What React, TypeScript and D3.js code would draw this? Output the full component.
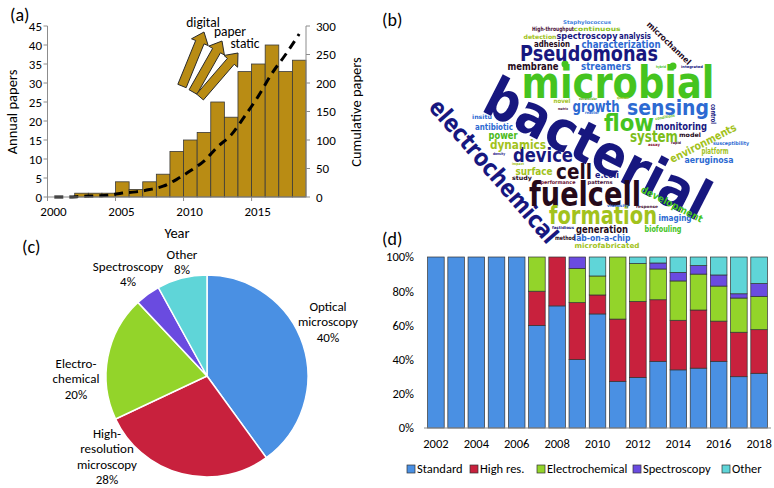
import React from 'react';
import * as d3 from 'd3';

// ---------- (a) annual / cumulative papers ----------
const years = [2000, 2001, 2002, 2003, 2004, 2005, 2006, 2007, 2008, 2009, 2010, 2011, 2012, 2013, 2014, 2015, 2016, 2017, 2018];
const annualPapers = [0, 0, 1, 1, 1, 4, 2, 4, 6, 12, 15, 17, 25, 21, 33, 35, 40, 33, 36];
const cumulativePapers = [0, 0, 1, 2, 3, 7, 9, 13, 19, 31, 46, 63, 88, 109, 142, 177, 217, 250, 286];
const arrowLabels = ['digital', 'paper', 'static'];

// ---------- (c) pie ----------
const pieLabels = ['Optical microscopy', 'High-resolution microscopy', 'Electrochemical', 'Spectroscopy', 'Other'];
const pieValues = [40, 28, 20, 4, 8];

// ---------- (d) stacked 100% ----------
const dYears = [2002, 2003, 2004, 2005, 2006, 2007, 2008, 2009, 2010, 2011, 2012, 2013, 2014, 2015, 2016, 2017, 2018];
const dSeries = ['Standard', 'High res.', 'Electrochemical', 'Spectroscopy', 'Other'];
const standard = [100, 100, 100, 100, 100, 60, 71.4, 40, 66.7, 27.3, 29.6, 39, 34, 35, 39, 30, 32];
const highRes = [0, 0, 0, 0, 0, 20, 28.6, 33.3, 11.1, 36.4, 44.4, 36, 29, 34, 23.5, 26, 25.5];
const electrochemical = [0, 0, 0, 0, 0, 20, 0, 20, 11.1, 36.3, 22.2, 18, 23, 21, 20.5, 20, 19.5];
const spectroscopy = [0, 0, 0, 0, 0, 0, 0, 6.7, 0, 0, 0, 3.5, 5, 5, 6.5, 2.5, 7.5];
const other = [0, 0, 0, 0, 0, 0, 0, 0, 11.1, 0, 3.8, 3.5, 9, 5, 10.5, 21.5, 15.5];

// ---------- (b) word cloud ----------
const cloudWords = [
  'bacterial', 'microbial', 'electrochemical', 'Pseudomonas', 'fuelcell', 'cell', 'formation', 'sensing',
  'flow', 'device', 'growth', 'system', 'dynamics', 'characterization', 'streamers', 'membrane',
  'spectroscopy', 'analysis', 'adhesion', 'monitoring', 'antibiotic', 'power', 'surface', 'aeruginosa',
  'platform', 'imaging', 'generation', 'lab-on-a-chip', 'biofouling', 'e.coli', 'environments', 'development',
  'microchannel', 'control', 'High-throughput', 'continuous', 'Staphylococcus', 'detection', 'insitu', 'model',
  'susceptibility', 'study', 'performance', 'patterns', 'method', 'microfabricated', 'viscosity', 'response',
  'fastidious', 'novel', 'extracellular', 'quorum', 'matrix', 'reactor', 'conditions', 'rapid',
  'assay', 'density', 'impact', 'hybrid', 'integrated',
];

const NAVY = '#17177f';
const BLUE = '#2d6ad2';
const GREEN = '#45c41f';
const YGREEN = '#a2c21c';
const MAROON = '#260a1a';
const PLUM = '#4a1238';

// layout of the cloud: [x, y, width, fontSize, rotate, colour] per word, same order as cloudWords
const cloudLayout: [number, number, number, number, number, string][] = [
  [598, 148, 245, 56, 27, NAVY],
  [618, 82, 193, 44, 0, GREEN],
  [494, 171, 182, 24, 49, NAVY],
  [589, 53, 138, 21, 0, NAVY],
  [585, 194, 112, 34, 0, MAROON],
  [574, 171, 36, 21, 0, MAROON],
  [603, 215, 108, 24, 0, YGREEN],
  [668, 107, 82, 22, 0, BLUE],
  [629, 123, 50, 23, 0, GREEN],
  [543, 155, 60, 20, 0, NAVY],
  [596, 107, 47, 15, 0, BLUE],
  [654, 136, 48, 16, 0, '#7cbd1a'],
  [518, 144, 56, 13, 0, YGREEN],
  [621, 44, 79, 10, 0, BLUE],
  [606, 66, 50, 11, 0, BLUE],
  [533, 66, 51, 10, 0, MAROON],
  [587, 36, 61, 9, 0, NAVY],
  [635, 36, 32, 9, 0, NAVY],
  [552, 44, 36, 9, 0, MAROON],
  [681, 126, 52, 10, 0, NAVY],
  [494, 127, 38, 9, 0, BLUE],
  [503, 135, 29, 10, 0, '#4cbb1a'],
  [534, 171, 37, 10, 0, YGREEN],
  [709, 160, 49, 9, 0, BLUE],
  [715, 151, 27, 8, 0, YGREEN],
  [675, 218, 33, 9, 0, BLUE],
  [602, 229, 52, 10, 0, MAROON],
  [602, 238, 57, 9, 0, BLUE],
  [663, 229, 37, 8, 0, GREEN],
  [607, 175, 24, 9, 0, NAVY],
  [703, 143, 73, 11, -27, YGREEN],
  [672, 204, 68, 10, 27, GREEN],
  [669, 43, 58, 8, 44, MAROON],
  [714, 114, 20, 7, 90, NAVY],
  [553, 29, 42, 6, 0, PLUM],
  [597, 29, 47, 6, 0, '#8cbf22'],
  [587, 22, 48, 5, 0, '#3d80dc'],
  [540, 37, 33, 6, 0, YGREEN],
  [482, 117, 20, 6, 0, BLUE],
  [690, 135, 22, 6, 0, MAROON],
  [731, 143, 36, 5, 0, BLUE],
  [522, 178, 20, 6, 0, MAROON],
  [558, 182, 35, 5, 0, '#6a1030'],
  [600, 182, 25, 5, 0, PLUM],
  [565, 238, 20, 6, 0, MAROON],
  [607, 245, 65, 7, 0, YGREEN],
  [618, 206, 22, 4, 0, BLUE],
  [647, 207, 22, 4, 0, PLUM],
  [563, 228, 22, 4, 0, NAVY],
  [562, 101, 17, 6, 0, YGREEN],
  [588, 99, 18, 3.5, 0, '#5aa82a'],
  [623, 98, 12, 3.5, 0, YGREEN],
  [563, 109, 10, 3.5, 0, PLUM],
  [592, 113, 14, 4, 0, BLUE],
  [665, 117, 20, 4, -10, '#6cbf2a'],
  [676, 143, 10, 3.5, 0, PLUM],
  [654, 145, 12, 4, 0, '#8a1030'],
  [499, 154, 12, 3.5, 0, NAVY],
  [518, 164, 12, 3.5, 0, YGREEN],
  [661, 67, 10, 3.5, 0, GREEN],
  [692, 67, 22, 3.5, 0, NAVY],
];

const FONT = "Carlito, Lato, 'Open Sans', sans-serif";
const CLOUD_FONT = "'DejaVu Sans', Roboto, sans-serif";

function blockArrow(b: [number, number], t: [number, number]) {
  const dx = t[0] - b[0], dy = t[1] - b[1];
  const len = Math.hypot(dx, dy);
  const ux = dx / len, uy = dy / len;
  const nx = -uy, ny = ux;
  const w = 4.5, h = 9, L = 11;
  const hx = t[0] - ux * L, hy = t[1] - uy * L;
  const p = [
    [b[0] + nx * w, b[1] + ny * w],
    [hx + nx * w, hy + ny * w],
    [hx + nx * h, hy + ny * h],
    [t[0], t[1]],
    [hx - nx * h, hy - ny * h],
    [hx - nx * w, hy - ny * w],
    [b[0] - nx * w, b[1] - ny * w],
  ];
  return 'M' + p.map(q => q.join(',')).join('L') + 'Z';
}

const arrowGeom: { base: [number, number]; tip: [number, number]; label: [number, number] }[] = [
  { base: [182, 86], tip: [204, 32], label: [203, 27] },
  { base: [193, 92], tip: [222, 41], label: [230, 36] },
  { base: [200, 97], tip: [238, 53], label: [245, 48] },
];

const PanelA = () => {
  const x = d3.scaleLinear().domain([2000, 2019]).range([47.5, 306]);
  const yL = d3.scaleLinear().domain([0, 45]).range([197, 26]);
  const yR = d3.scaleLinear().domain([0, 300]).range([197, 26]);
  const line = d3.line<number>()
    .x((_, i) => x(years[i] + 0.5))
    .y(d => yR(d))
    .curve(d3.curveMonotoneX);
  const axisColor = '#8c8c8c';
  return (
    <g fontFamily={FONT}>
      <text x={10} y={21} fontSize={18}>(a)</text>
      {years.map((yr, i) => (
        <rect key={yr} x={x(yr)} y={yL(annualPapers[i])} width={x(yr + 1) - x(yr)}
          height={yL(0) - yL(annualPapers[i])} fill="#b98c14" stroke="#3a3a3a" strokeWidth={0.8} />
      ))}
      <path d={line(cumulativePapers) || ''} fill="none" stroke="#000" strokeWidth={3} strokeDasharray="9,6" />
      {/* axes */}
      <line x1={x(2000)} x2={x(2000)} y1={yL(0)} y2={yL(45)} stroke={axisColor} />
      <line x1={x(2019)} x2={x(2019)} y1={yL(0)} y2={yL(45)} stroke={axisColor} />
      <line x1={x(2000)} x2={x(2019)} y1={yL(0)} y2={yL(0)} stroke={axisColor} />
      {yL.ticks(9).map(t => (
        <g key={'l' + t}>
          <line x1={x(2000) - 4} x2={x(2000)} y1={yL(t)} y2={yL(t)} stroke={axisColor} />
          <text x={42} y={yL(t)} dy="0.35em" textAnchor="end" fontSize={13}>{t}</text>
        </g>
      ))}
      {yR.ticks(6).map(t => (
        <g key={'r' + t}>
          <line x1={x(2019)} x2={x(2019) + 4} y1={yR(t)} y2={yR(t)} stroke={axisColor} />
          <text x={316} y={yR(t)} dy="0.35em" textAnchor="start" fontSize={13}>{t}</text>
        </g>
      ))}
      {[2000, 2005, 2010, 2015].map(t => (
        <g key={'x' + t}>
          <line x1={x(t)} x2={x(t)} y1={yL(0)} y2={yL(0) + 4} stroke={axisColor} />
          <text x={x(t) + 6} y={216} textAnchor="middle" fontSize={13}>{t}</text>
        </g>
      ))}
      <text x={177} y={238} textAnchor="middle" fontSize={14.5}>Year</text>
      <text transform={`translate(17,112) rotate(-90)`} textAnchor="middle" fontSize={14.5}>Annual papers</text>
      <text transform={`translate(361,112) rotate(-90)`} textAnchor="middle" fontSize={14.5}>Cumulative papers</text>
      {arrowGeom.map((a, i) => (
        <path key={'ar' + i} d={blockArrow(a.base, a.tip)} fill="#b98c14" stroke="#2a2a2a" strokeWidth={1} />
      ))}
      {arrowGeom.map((a, i) => (
        <text key={'al' + i} x={a.label[0]} y={a.label[1]} textAnchor="middle" fontSize={13.5}>{arrowLabels[i]}</text>
      ))}
    </g>
  );
};

const PanelB = () => (
  <g>
    <text x={382} y={26} fontSize={18} fontFamily={FONT}>(b)</text>
    <circle cx={565} cy={64} r={3.5} fill={GREEN} />
    <circle cx={673} cy={66} r={3.5} fill={GREEN} />
    {cloudWords.map((w, i) => {
      const [cx, cy, wd, fs, rot, col] = cloudLayout[i];
      return (
        <text key={w} x={cx} y={cy} dy="0.36em" textAnchor="middle" fontSize={fs}
          fontFamily={CLOUD_FONT} fontWeight="bold" fill={col}
          textLength={wd} lengthAdjust="spacingAndGlyphs"
          transform={rot ? `rotate(${rot},${cx},${cy})` : undefined}>{w}</text>
      );
    })}
  </g>
);

const pieColors = ['#4a90e3', '#c8213d', '#93d42a', '#6a4be0', '#5fd5d8'];
const pieTextLines: { lines: string[]; x: number; y: number }[] = [
  { lines: ['Optical', 'microscopy', '40%'], x: 328, y: 306 },
  { lines: ['High-', 'resolution', 'microscopy', '28%'], x: 107, y: 433 },
  { lines: ['Electro-', 'chemical', '20%'], x: 76, y: 363 },
  { lines: ['Spectroscopy', '4%'], x: 128, y: 266 },
  { lines: ['Other', '8%'], x: 182, y: 254 },
];

const PanelC = () => {
  const pie = d3.pie<number>().sort(null).value(d => d);
  const arc = d3.arc<d3.PieArcDatum<number>>().innerRadius(0).outerRadius(101);
  const arcs = pie(pieValues);
  return (
    <g fontFamily={FONT}>
      <text x={22} y={253} fontSize={18}>(c)</text>
      <g transform="translate(207,376)">
        {arcs.map((a, i) => (
          <path key={pieLabels[i]} d={arc(a) || ''} fill={pieColors[i]} stroke="#fff" strokeWidth={1.5} />
        ))}
      </g>
      {pieTextLines.map((p, i) => (
        <text key={'pl' + i} x={p.x} textAnchor="middle" fontSize={13}>
          {p.lines.map((l, j) => (
            <tspan key={j} x={p.x} y={p.y + j * 15.5} dy="0.35em">{l}</tspan>
          ))}
        </text>
      ))}
    </g>
  );
};

const PanelD = () => {
  const x = d3.scaleBand<number>().domain(dYears).range([424, 771]).padding(0.18);
  const y = d3.scaleLinear().domain([0, 100]).range([428, 257]);
  const rows = dYears.map((yr, i) => ({
    year: yr,
    'Standard': standard[i],
    'High res.': highRes[i],
    'Electrochemical': electrochemical[i],
    'Spectroscopy': spectroscopy[i],
    'Other': other[i],
  }));
  const stack = d3.stack<any>().keys(dSeries)(rows);
  const legendX = [407, 470, 537, 633, 722];
  return (
    <g fontFamily={FONT}>
      <text x={382} y={245} fontSize={18}>(d)</text>
      {y.ticks(5).map(t => (
        <text key={t} x={414} y={y(t)} dy="0.35em" textAnchor="end" fontSize={12.5}>{t}%</text>
      ))}
      {stack.map((s, k) => (
        <g key={s.key} fill={pieColors[k]}>
          {s.map((d, i) => (d[1] - d[0] > 0 ? (
            <rect key={i} x={x(dYears[i])} width={x.bandwidth()} y={y(d[1])} height={y(d[0]) - y(d[1])}
              stroke="#333" strokeWidth={0.7} />
          ) : null))}
        </g>
      ))}
      <line x1={424} x2={771} y1={y(0)} y2={y(0)} stroke="#8c8c8c" />
      {dYears.filter(yr => yr % 2 === 0).map(yr => (
        <text key={yr} x={(x(yr) || 0) + x.bandwidth() / 2} y={444} dy="0.35em" textAnchor="middle" fontSize={12.5}>{yr}</text>
      ))}
      {dSeries.map((s, k) => (
        <g key={s}>
          <rect x={legendX[k]} y={465} width={8} height={8} fill={pieColors[k]} stroke="#333" strokeWidth={0.7} />
          <text x={legendX[k] + 10} y={469} dy="0.35em" fontSize={12.5}>{s}</text>
        </g>
      ))}
    </g>
  );
};

export default function App() {
  return (
    <svg width={774} height={488} style={{ position: 'absolute', left: 0, top: 0, background: '#fff' }}>
      <rect width={774} height={488} fill="#fff" />
      <PanelA />
      <PanelB />
      <PanelC />
      <PanelD />
    </svg>
  );
}
